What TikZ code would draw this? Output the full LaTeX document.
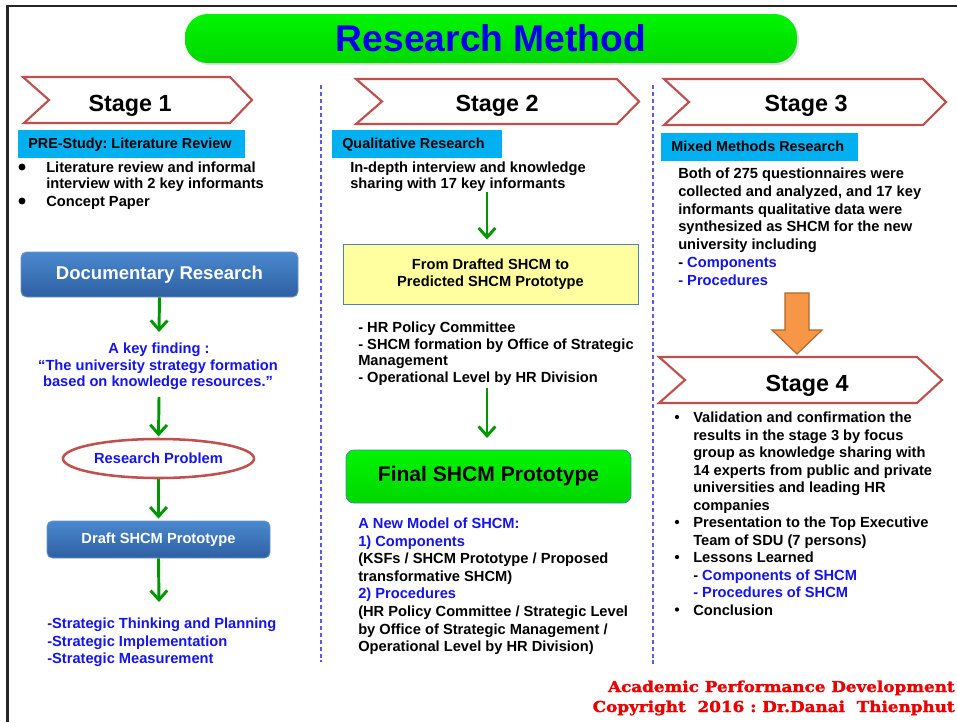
\documentclass[tikz,border=0pt]{standalone}
\usepackage{fontspec}
\setmainfont{Liberation Sans}
\newfontfamily\slabfont[BoldFeatures={FakeBold=1.6}]{DejaVu Serif}
\usetikzlibrary{arrows.meta,shadows,shapes.geometric}
\frenchspacing
\definecolor{chevred}{RGB}{192,80,77}
\definecolor{cyanlab}{RGB}{0,176,240}
\definecolor{txtblue}{RGB}{20,20,235}
\definecolor{titleblue}{RGB}{0,0,235}
\definecolor{arrgreen}{RGB}{0,150,0}
\definecolor{dashblue}{RGB}{90,90,235}
\definecolor{boxtop}{RGB}{74,136,206}
\definecolor{boxbot}{RGB}{46,96,162}
\definecolor{boxedge}{RGB}{110,150,205}
\definecolor{ylw}{RGB}{255,255,160}
\definecolor{ylwedge}{RGB}{79,129,189}
\definecolor{orng}{RGB}{247,150,70}
\definecolor{orngedge}{RGB}{175,105,45}
\definecolor{footred}{RGB}{235,0,0}
\definecolor{brightgreen}{RGB}{0,245,0}
\definecolor{darkgreen}{RGB}{0,215,0}
\begin{document}
\begin{tikzpicture}[x=0.75pt,y=-0.75pt,
  txt/.style={font=\fontsize{11}{13}\selectfont\bfseries, inner sep=0pt, anchor=base west},
  ctxt/.style={txt, anchor=base},
  stagetxt/.style={font=\fontsize{17.5}{20}\selectfont\bfseries, inner sep=0pt, anchor=base},
  chev/.style={draw=chevred, line width=1.6pt, fill=white, line join=miter},
  cyanbox/.style={fill=cyanlab, inner sep=0pt, anchor=north west, minimum height=21pt},
  labtxt/.style={font=\fontsize{10.8}{13}\selectfont\bfseries, inner sep=0pt, anchor=base west},
  bluebox/.style={top color=boxtop, bottom color=boxbot, draw=boxedge, line width=0.6pt,
    rounded corners=4pt, text=white, font=\bfseries, inner sep=0pt},
  garrow/.style={draw=arrgreen, line width=2.2pt, -{Straight Barb[length=7pt,width=12.5pt]}},
  dline/.style={draw=dashblue, line width=0.9pt, dash pattern=on 3pt off 2.2pt}
]
\useasboundingbox (0,0) rectangle (957,722);
\fill[white] (0,0) rectangle (957,722);
% frame
\draw[line width=2pt, draw=black!85] (7.5,722) -- (7.5,6) -- (957,6);

% title
\node[top color=brightgreen, bottom color=darkgreen, rounded corners=17pt,
  minimum width=459pt, minimum height=36.75pt, inner sep=0pt,
  drop shadow={opacity=0.25, shadow xshift=1.5pt, shadow yshift=-1.5pt},
  font=\fontsize{27.9}{30}\selectfont\bfseries, text=titleblue] (title) at (491,38.5) {Research Method};

% dashed separators
\coordinate (d1a) at (321,85); \coordinate (d1b) at (321,662);
\coordinate (d2a) at (653,85); \coordinate (d2b) at (653,667);
\draw[dline] (d1a) -- (d1b);
\draw[dline] (d2a) -- (d2b);

% chevrons
\draw[chev] (23,77) -- (230,77) -- (252,100) -- (230,123) -- (24,123) -- (49,100) -- cycle;
\node[stagetxt] (st1) at (130,111) {Stage 1};
\draw[chev] (356,79) -- (617,79) -- (639,101.5) -- (617,124) -- (356,124) -- (382,101.5) -- cycle;
\node[stagetxt] (st2) at (497,111) {Stage 2};
\draw[chev] (664,79) -- (923,79) -- (946,102) -- (923,125) -- (664,125) -- (689,102) -- cycle;
\node[stagetxt] (st3) at (806,111) {Stage 3};
\draw[chev] (659,357) -- (917,357) -- (942,380) -- (917,403) -- (659,403) -- (685,380) -- cycle;
\node[stagetxt] (st4) at (807,391) {Stage 4};

% cyan labels
\node[cyanbox, minimum width=170.25pt] (lab1) at (18,130) {};
\node[labtxt] (lab1t) at (28,148.5) {PRE-Study: Literature Review};
\node[cyanbox, minimum width=127.5pt] (lab2) at (332,130) {};
\node[labtxt] (lab2t) at (342,148.5) {Qualitative Research};
\node[cyanbox, minimum width=147.75pt] (lab3) at (661,133) {};
\node[labtxt] (lab3t) at (671,151.5) {Mixed Methods Research};

% ---------- Stage 1 ----------
\fill (22,167) circle[radius=2.6pt];
\fill (22,201) circle[radius=2.6pt];
\node[txt] (sa1) at (46,172.5) {Literature review and informal};
\node[txt] (sa2) at (46,188.5) {interview with 2 key informants};
\node[txt] (sa3) at (46,206.5) {Concept Paper};

\node[bluebox, minimum width=207.75pt, minimum height=33.75pt,
  font=\fontsize{13.9}{16}\selectfont\bfseries] (doc) at (159.5,274.5) {Documentary Research};
\node[ctxt, text=txtblue] (kf1) at (159,353) {A key finding :};
\node[ctxt, text=txtblue] (kf2) at (158,370) {“The university strategy formation};
\node[ctxt, text=txtblue] (kf3) at (158,386) {based on knowledge resources.”};
\coordinate (a1e) at (159,332);
\coordinate (a2s) at (159,397);
\draw[garrow] (doc.south) -- (a1e);
\node[ellipse, draw=chevred, line width=1.9pt, fill=white, minimum width=143.25pt,
  minimum height=29.25pt, inner sep=0pt, font=\fontsize{11}{13}\selectfont\bfseries,
  text=txtblue] (prob) at (158.5,458.5) {Research Problem};
\draw[garrow, shorten >=1pt] (a2s) -- (prob.north);
\node[bluebox, minimum width=167.25pt, minimum height=27.75pt,
  font=\fontsize{11}{13}\selectfont\bfseries] (draft) at (158.5,539.5) {Draft SHCM Prototype};
\draw[garrow, shorten >=1.5pt] (prob.south) -- (draft.north);
\coordinate (a4e) at (159,602);
\draw[garrow] (draft.south) -- (a4e);
\node[txt, text=txtblue] (sl1) at (47,628) {-Strategic Thinking and Planning};
\node[txt, text=txtblue] (sl2) at (47,646) {-Strategic Implementation};
\node[txt, text=txtblue] (sl3) at (47,663) {-Strategic Measurement};

% ---------- Stage 2 ----------
\node[txt] (sb1) at (350,172.5) {In-depth interview and knowledge};
\node[txt] (sb2) at (350,188.5) {sharing with 17 key informants};
\node[fill=ylw, draw=ylwedge, line width=0.7pt, minimum width=221.25pt, minimum height=45pt,
  inner sep=0pt, align=center, font=\fontsize{11}{12.75}\selectfont\bfseries] (ybox) at (490.5,274)
  {From Drafted SHCM to\\Predicted SHCM Prototype};
\coordinate (b1s) at (487,192);
\draw[garrow, shorten >=3pt] (b1s) -- (b1s |- ybox.north);
\foreach \t [count=\i] in {- HR Policy Committee, - SHCM formation by Office of Strategic, Management, - Operational Level by HR Division}
  \node[txt] (sc\i) at (358,{327+5.5+(\i-1)*16.7}) {\t};
\coordinate (b2s) at (487,388);
\coordinate (b2e) at (487,438);
\draw[garrow] (b2s) -- (b2e);
\node[top color=brightgreen, bottom color=darkgreen, draw=ylwedge, line width=0.6pt,
  rounded corners=6pt, minimum width=213.75pt, minimum height=39.75pt, inner sep=0pt,
  font=\fontsize{15.8}{18}\selectfont\bfseries] (final) at (488.5,476.5) {Final SHCM Prototype};
\foreach \t [count=\i] in {\textcolor{txtblue}{A New Model of SHCM:}, \textcolor{txtblue}{1) Components},
  {(KSFs / SHCM Prototype / Proposed}, {transformative SHCM)}, \textcolor{txtblue}{2) Procedures},
  {(HR Policy Committee / Strategic Level}, {by Office of Strategic Management /},
  {Operational Level by HR Division)}}
  \node[txt] (sd\i) at (358,{523+5.5+(\i-1)*17.6}) {\t};

% ---------- Stage 3 ----------
\foreach \t [count=\i] in {Both of 275 questionnaires were, {collected and analyzed, and 17 key},
  informants qualitative data were, synthesized as SHCM for the new, university including,
  {- \textcolor{txtblue}{Components}}, \textcolor{txtblue}{- Procedures}}
  \node[txt] (se\i) at (678,{173+5.5+(\i-1)*17.8}) {\t};
\draw[fill=orng, draw=orngedge, line width=0.9pt, line join=miter]
  (785,293) -- (809,293) -- (809,330) -- (822,330) -- (797,354) -- (772,330) -- (785,330) -- cycle;

% ---------- Stage 4 ----------
\foreach \i in {0,6,8,11} \fill (677,{417+\i*17.5}) circle[radius=1.6pt];
\foreach \t [count=\i] in {Validation and confirmation the, results in the stage 3 by focus,
  group as knowledge sharing with, 14 experts from public and private,
  universities and leading HR, companies, Presentation to the Top Executive,
  Team of SDU (7 persons), Lessons Learned, {- \textcolor{txtblue}{Components of SHCM}},
  \textcolor{txtblue}{- Procedures of SHCM}, Conclusion}
  \node[txt] (sf\i) at (693,{417+5.5+(\i-1)*17.5}) {\t};

% footer
\node[inner sep=0pt, anchor=base east] (foot1) at (955,692)
  {\resizebox{260pt}{8.6pt}{\slabfont\bfseries\color{footred}Academic Performance Development}};
\node[inner sep=0pt, anchor=base east] (foot2) at (955,712)
  {\resizebox{271.5pt}{8.6pt}{\slabfont\bfseries\color{footred}Copyright~~2016 : Dr.Danai~~Thienphut}};
\end{tikzpicture}
\end{document}
